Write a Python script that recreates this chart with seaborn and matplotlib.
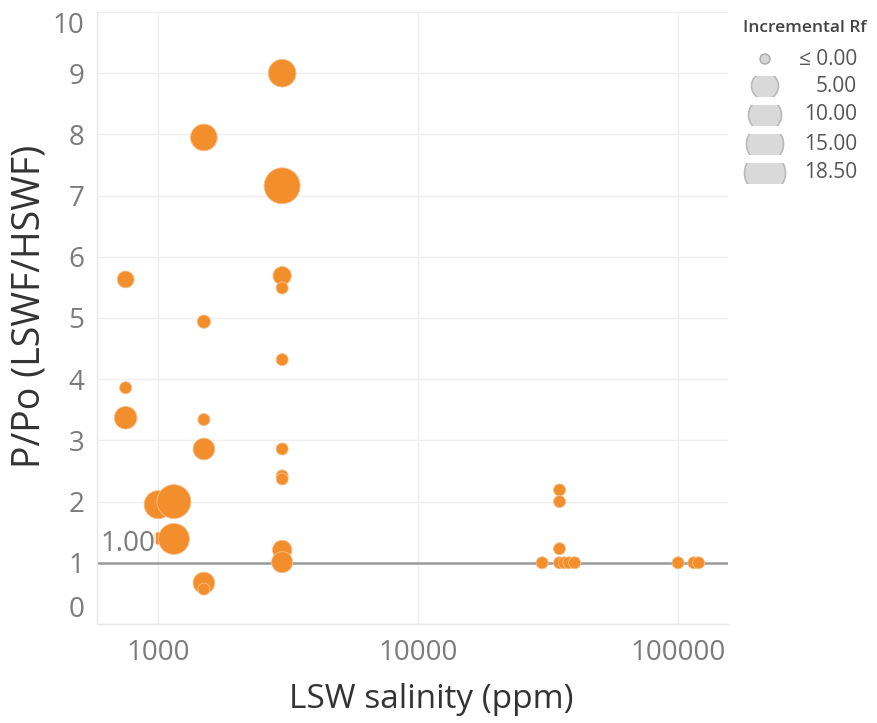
import numpy as np
import pandas as pd
import matplotlib
matplotlib.use("Agg")
import matplotlib.pyplot as plt
from matplotlib.patches import Circle, Rectangle
from matplotlib.ticker import LogLocator, FixedLocator, NullFormatter
import seaborn as sns

# LSW salinity (ppm), recovery ratio P/Po and incremental recovery factor
salinity = [3000, 1500, 3000, 750, 3000, 3000, 1500, 3000, 750, 750,
            1500, 1500, 3000, 3000, 3000, 1000, 1150, 1000, 1150, 3000,
            3000, 1500, 1500,
            35000, 35000, 35000, 30000, 35000, 36500, 38000, 40000,
            100000, 115000, 120000]
ratio = [9.00, 7.95, 7.16, 5.63, 5.69, 5.49, 4.94, 4.32, 3.86, 3.37,
         3.34, 2.86, 2.86, 2.42, 2.37, 1.95, 2.00, 1.40, 1.39, 1.21,
         1.01, 0.67, 0.57,
         2.19, 2.00, 1.23, 1.00, 1.00, 1.00, 1.00, 1.00,
         1.00, 1.00, 1.00]
incr_rf = [10.0, 9.1, 18.5, 2.2, 3.1, 0.0, 0.5, 0.0, 0.0, 5.9,
           0.0, 5.2, 0.0, 0.0, 0.0, 10.3, 16.2, 0.0, 13.1, 3.7,
           4.8, 5.2, 0.0,
           0.0, 0.0, 0.0, 0.0, 0.0, 0.0, 0.0, 0.0,
           0.0, 0.0, 0.0]

y_ticks = [0, 1, 2, 3, 4, 5, 6, 7, 8, 9, 10]
x_ticks = [1000, 10000, 100000]
x_tick_labels = ["1000", "10000", "100000"]
legend_values = [0.0, 5.0, 10.0, 15.0, 18.5]
legend_labels = ["\u2264 0.00", "5.00", "10.00", "15.00", "18.50"]
ref_value = 1.00

df = pd.DataFrame({"salinity": salinity, "ratio": ratio, "rf": incr_rf})

sns.set_theme(style="white")
plt.rcParams["font.family"] = ["Open Sans", "DejaVu Sans"]

W, H = 877, 723
fig = plt.figure(figsize=(W / 100, H / 100), dpi=100)
ax = fig.add_axes([97 / W, 1 - 624 / H, (728 - 97) / W, (624 - 12) / H])

ORANGE = "#F28E2B"
TICK_GREY = "#7b7b7b"
GRID = "#efefef"

sns.scatterplot(data=df, x="salinity", y="ratio", size="rf",
                sizes=(75, 670), size_norm=(0, 18.5), color=ORANGE,
                edgecolor="#f7c08c", linewidth=0.6, alpha=1.0,
                legend=False, ax=ax, zorder=3)
ax.set_xlabel("")
ax.set_ylabel("")

ax.set_xscale("log")
ax.set_xlim(582, 155600)
ax.set_ylim(0, 10)

# grid
ax.xaxis.set_major_locator(FixedLocator(x_ticks))
ax.set_xticklabels(x_tick_labels)
ax.xaxis.set_minor_locator(LogLocator(base=10, subs=np.arange(2, 10)))
ax.xaxis.set_minor_formatter(NullFormatter())
ax.set_yticks(y_ticks)
ax.grid(True, which="major", color=GRID, linewidth=1.0, zorder=0)
ax.set_axisbelow(True)

for side in ["top", "right"]:
    ax.spines[side].set_visible(False)
for side in ["left", "bottom"]:
    ax.spines[side].set_color("#e8e8e8")
    ax.spines[side].set_linewidth(1.0)

ax.tick_params(axis="x", which="major", length=4, color="#e6e6e6",
               labelsize=20, labelcolor=TICK_GREY, pad=7)
ax.tick_params(axis="x", which="minor", length=3, color="#ececec")
ax.tick_params(axis="y", which="major", length=0, labelsize=20,
               labelcolor=TICK_GREY, pad=9)

# keep the edge labels inside the plot area
ylabels = ax.get_yticklabels()
ylabels[0].set_verticalalignment("bottom")
ylabels[-1].set_verticalalignment("top")

# reference line
ax.axhline(ref_value, color="#9a9a9a", linewidth=1.8, zorder=2)
ref_txt = ax.text(0.005, ref_value + 0.31, f"{ref_value:.2f}",
                  transform=ax.get_yaxis_transform(), fontsize=20,
                  color=TICK_GREY, ha="left", va="center", zorder=4)
ref_txt.set_bbox(dict(facecolor="white", edgecolor="none", alpha=0.75, pad=0.5))

# axis titles
fig.text(431 / W, 1 - 700 / H, "LSW salinity (ppm)", fontsize=24,
         color="#333333", ha="center", va="center")
fig.text(30 / W, 1 - 306 / H, "P/Po (LSWF/HSWF)", fontsize=27,
         color="#333333", ha="center", va="center", rotation=90)

# size legend, drawn in pixel coordinates
lax = fig.add_axes([730 / W, 1 - 200 / H, 147 / W, 200 / H])
lax.set_xlim(730, 877)
lax.set_ylim(200, 0)
lax.axis("off")
lax.text(805, 28, "Incremental Rf", fontsize=12.5, fontweight="semibold",
         color="#444444", ha="center", va="center")
row_y = [59, 86, 115, 144, 173]
legend_w = [10, 27, 33, 37, 41]
for val, lab, cy, w in zip(legend_values, legend_labels, row_y, legend_w):
    r = w / 2
    if val <= 0:
        c = Circle((765, cy), r, facecolor="#d6d6d6", edgecolor="#a9a9a9", lw=1.0)
        lax.add_patch(c)
    else:
        c = Circle((765, cy), r, facecolor="#d9d9d9", edgecolor="#b9b9b9", lw=1.2)
        lax.add_patch(c)
        clip = Rectangle((765 - r - 2, cy - 10.5), w + 4, 21, transform=lax.transData)
        c.set_clip_path(clip)
    lax.text(857, cy, lab, fontsize=15, color="#555555", ha="right", va="center")

fig.savefig("out.png", dpi=100, facecolor="white")
